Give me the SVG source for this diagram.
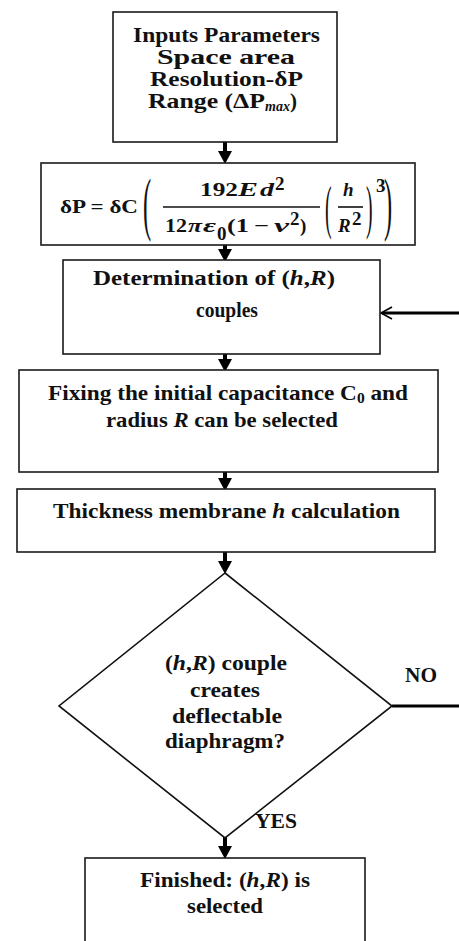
<svg xmlns="http://www.w3.org/2000/svg" width="459" height="941" viewBox="0 0 459 941">
<style>
.box{fill:#fff;stroke:#1a1a1a;stroke-width:1.6}
.t{font-family:"Liberation Serif","Times New Roman",serif;font-weight:bold;font-size:21px;fill:#111}
.m{font-family:"Liberation Serif","Times New Roman",serif;font-weight:bold;font-size:19px;fill:#111}
.i{font-style:italic}
.par{font-family:"Liberation Serif","Times New Roman",serif;font-weight:normal;fill:#111}
.conn{stroke:#000;stroke-width:4;fill:none}
.thick{stroke:#000;stroke-width:3;fill:none}
</style>
<defs>
<marker id="ah" markerUnits="userSpaceOnUse" markerWidth="14" markerHeight="14" refX="4" refY="7" orient="auto">
<path d="M0,0 L13,7 L0,14 z" fill="#000"/>
</marker>
</defs>
<rect width="459" height="941" fill="#fff"/>

<g id="connectors">
<line class="conn" x1="225" y1="142" x2="225" y2="155" marker-end="url(#ah)"/>
<line class="conn" x1="225" y1="245" x2="225" y2="253" marker-end="url(#ah)"/>
<line class="conn" x1="225" y1="354" x2="225" y2="363" marker-end="url(#ah)"/>
<line class="conn" x1="225" y1="472" x2="225" y2="482" marker-end="url(#ah)"/>
<line class="conn" x1="225" y1="552" x2="225" y2="565" marker-end="url(#ah)"/>
<line class="conn" x1="225" y1="828" x2="225" y2="850" marker-end="url(#ah)"/>
<line class="thick" x1="392" y1="706" x2="459" y2="706"/>
<line class="thick" x1="459" y1="313" x2="382" y2="313"/>
<path d="M392,307 L381,313 L392,319" stroke="#000" stroke-width="1.6" fill="none"/>
<text class="t" x="405" y="682" textLength="32" lengthAdjust="spacingAndGlyphs">NO</text>
<text class="t" x="255" y="828" textLength="42" lengthAdjust="spacingAndGlyphs">YES</text>
</g>

<g id="inputs">
<rect class="box" x="113" y="12" width="224" height="130"/>
<text class="t" x="133" y="42" textLength="187" lengthAdjust="spacingAndGlyphs">Inputs Parameters</text>
<text class="t" x="157" y="64" textLength="138" lengthAdjust="spacingAndGlyphs">Space area</text>
<text class="t" x="150" y="86" textLength="153" lengthAdjust="spacingAndGlyphs">Resolution-δP</text>
<text class="t" x="148" y="108"><tspan textLength="117" lengthAdjust="spacingAndGlyphs">Range (ΔP</tspan><tspan class="i" font-size="14" dy="3">max</tspan><tspan dy="-3">)</tspan></text>
</g>

<g id="formula">
<rect class="box" x="41" y="163" width="374" height="82"/>
<text class="m" x="60" y="213" font-size="22" textLength="78" lengthAdjust="spacingAndGlyphs">δP = δC</text>
<text class="par" font-size="70" transform="translate(143,226.5) scale(0.35,1)">(</text>
<text class="m" x="200" y="196" textLength="38" lengthAdjust="spacingAndGlyphs">192</text>
<text class="m i" x="238" y="196" textLength="20" lengthAdjust="spacingAndGlyphs">E</text>
<text class="m i" x="260" y="196" textLength="14" lengthAdjust="spacingAndGlyphs">d</text>
<text class="m" x="275" y="190" font-size="12">2</text>
<line x1="163" y1="207" x2="320" y2="207" stroke="#111" stroke-width="1.6"/>
<text class="m" x="165" y="232" textLength="22" lengthAdjust="spacingAndGlyphs">12</text>
<text class="m i" x="188" y="232" textLength="14" lengthAdjust="spacingAndGlyphs">π</text>
<text class="m i" x="203" y="232" textLength="13" lengthAdjust="spacingAndGlyphs">ε</text>
<text class="m" x="217" y="240" font-size="13">0</text>
<text class="m" x="227" y="232" textLength="22" lengthAdjust="spacingAndGlyphs">(1</text>
<text class="m" x="254" y="232" textLength="15" lengthAdjust="spacingAndGlyphs">−</text>
<text class="m i" x="274" y="232" textLength="15" lengthAdjust="spacingAndGlyphs">ν</text>
<text class="m" x="290" y="225" font-size="12">2</text>
<text class="m" x="300" y="232">)</text>
<text class="par" font-size="60" transform="translate(325,226.5) scale(0.33,1)">(</text>
<text class="m i" x="343" y="196">h</text>
<line x1="338" y1="207" x2="363" y2="207" stroke="#111" stroke-width="1.6"/>
<text class="m i" x="338" y="232">R</text>
<text class="m" x="352" y="225" font-size="12">2</text>
<text class="par" font-size="60" transform="translate(366,226.5) scale(0.33,1)">)</text>
<text class="m" x="376" y="192" font-size="13">3</text>
<text class="par" font-size="70" transform="translate(384,226.5) scale(0.35,1)">)</text>
</g>

<g id="determination">
<rect class="box" x="63" y="260" width="317" height="94"/>
<text class="t" x="93" y="285" textLength="242" lengthAdjust="spacingAndGlyphs">Determination of (<tspan class="i">h</tspan>,<tspan class="i">R</tspan>)</text>
<text class="t" x="196" y="317" textLength="62" lengthAdjust="spacingAndGlyphs">couples</text>
</g>

<g id="fixing">
<rect class="box" x="19" y="370" width="419" height="102"/>
<text class="t" x="48" y="400" textLength="360" lengthAdjust="spacingAndGlyphs">Fixing the initial capacitance C<tspan font-size="14" dy="3">0</tspan><tspan dy="-3"> and</tspan></text>
<text class="t" x="106" y="427" textLength="232" lengthAdjust="spacingAndGlyphs">radius <tspan class="i">R</tspan> can be selected</text>
</g>

<g id="thickness">
<rect class="box" x="17" y="489" width="418" height="63"/>
<text class="t" x="53" y="518" textLength="347" lengthAdjust="spacingAndGlyphs">Thickness membrane <tspan class="i">h</tspan> calculation</text>
</g>

<g id="decision">
<polygon points="225,573 392,706 225,838 59,706" fill="#fff" stroke="#111" stroke-width="1.6"/>
<text class="t" x="165" y="670" textLength="122" lengthAdjust="spacingAndGlyphs">(<tspan class="i">h</tspan>,<tspan class="i">R</tspan>) couple</text>
<text class="t" x="190" y="697" textLength="70" lengthAdjust="spacingAndGlyphs">creates</text>
<text class="t" x="172" y="723" textLength="110" lengthAdjust="spacingAndGlyphs">deflectable</text>
<text class="t" x="165" y="748" textLength="120" lengthAdjust="spacingAndGlyphs">diaphragm?</text>
</g>

<g id="finished">
<rect class="box" x="85" y="858" width="280" height="100"/>
<text class="t" x="140" y="887" textLength="170" lengthAdjust="spacingAndGlyphs">Finished: (<tspan class="i">h</tspan>,<tspan class="i">R</tspan>) is</text>
<text class="t" x="187" y="913" textLength="76" lengthAdjust="spacingAndGlyphs">selected</text>
</g>
</svg>
